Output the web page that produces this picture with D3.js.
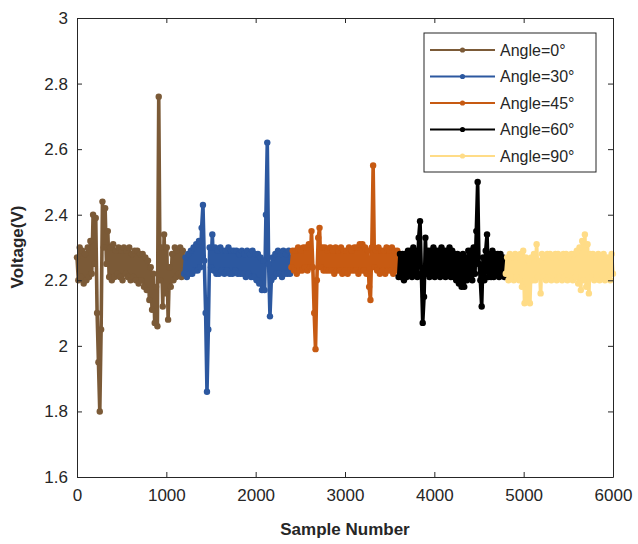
<!DOCTYPE html>
<html>
<head>
<meta charset="utf-8">
<script src="https://cdn.jsdelivr.net/npm/d3@7"></script>
<style>
  body { margin: 0; background: #fff; }
  text { font-family: "Liberation Sans", Arial, sans-serif; fill: #262626; }
</style>
</head>
<body>
<svg id="chart" width="638" height="544"></svg>
<script>
// Sample spacing between stored points, and series start samples
var sampleStep = 15;
var seriesNames = ["Angle=0°", "Angle=30°", "Angle=45°", "Angle=60°", "Angle=90°"];
var seriesStarts = [0, 1200, 2400, 3600, 4800];
var seriesColors = ["#7b5a37", "#2c58a0", "#c75a12", "#000000", "#ffdc87"];

// Voltage readings (one every sampleStep samples)
var angle0 = [2.27,2.20,2.30,2.21,2.29,2.19,2.28,2.20,2.30,2.21,2.32,2.22,2.40,2.25,2.39,2.10,1.95,1.80,2.05,2.44,
  2.30,2.42,2.25,2.35,2.21,2.30,2.20,2.31,2.21,2.29,2.22,2.30,2.21,2.29,2.20,2.30,2.22,2.29,2.21,2.30,
  2.20,2.28,2.21,2.29,2.20,2.29,2.19,2.28,2.20,2.28,2.18,2.27,2.17,2.26,2.14,2.24,2.11,2.22,2.07,2.18,
  2.06,2.76,2.20,2.30,2.12,2.34,2.16,2.30,2.08,2.24,2.18,2.28,2.20,2.30,2.21,2.29,2.22,2.30,2.21,2.29,2.23];
var angle30 = [2.22,2.27,2.21,2.28,2.22,2.29,2.22,2.30,2.23,2.31,2.23,2.32,2.24,2.36,2.43,2.26,2.10,1.86,2.05,2.30,
  2.24,2.34,2.23,2.30,2.22,2.29,2.22,2.30,2.23,2.29,2.22,2.29,2.23,2.30,2.22,2.29,2.22,2.29,2.23,2.29,
  2.22,2.28,2.22,2.29,2.22,2.28,2.21,2.29,2.22,2.28,2.21,2.29,2.21,2.28,2.20,2.28,2.19,2.27,2.17,2.26,
  2.17,2.40,2.62,2.25,2.09,2.20,2.27,2.21,2.28,2.22,2.29,2.22,2.28,2.21,2.29,2.22,2.28,2.22,2.29,2.22,2.27];
var angle45 = [2.24,2.29,2.23,2.29,2.22,2.30,2.23,2.29,2.23,2.30,2.24,2.30,2.23,2.31,2.24,2.35,2.24,2.10,1.99,2.20,
  2.33,2.36,2.24,2.30,2.23,2.30,2.23,2.29,2.23,2.30,2.23,2.29,2.22,2.30,2.23,2.29,2.23,2.30,2.22,2.29,
  2.23,2.29,2.22,2.30,2.23,2.29,2.23,2.30,2.23,2.30,2.22,2.31,2.23,2.31,2.23,2.30,2.22,2.29,2.18,2.14,
  2.30,2.55,2.24,2.29,2.23,2.30,2.22,2.29,2.23,2.29,2.22,2.30,2.23,2.29,2.23,2.30,2.22,2.29,2.23,2.29,2.23];
var angle60 = [2.21,2.28,2.21,2.28,2.20,2.28,2.21,2.29,2.22,2.29,2.21,2.30,2.22,2.29,2.21,2.33,2.38,2.22,2.07,2.15,
  2.33,2.22,2.29,2.21,2.29,2.22,2.30,2.21,2.29,2.22,2.29,2.21,2.30,2.22,2.29,2.21,2.29,2.22,2.30,2.21,
  2.29,2.21,2.28,2.20,2.28,2.19,2.27,2.18,2.28,2.18,2.27,2.20,2.29,2.21,2.29,2.20,2.30,2.22,2.35,2.50,
  2.25,2.20,2.12,2.27,2.20,2.29,2.34,2.21,2.28,2.21,2.29,2.21,2.28,2.22,2.28,2.21,2.28,2.22,2.27,2.21,2.26];
var angle90 = [2.22,2.27,2.20,2.28,2.21,2.27,2.20,2.28,2.21,2.27,2.20,2.28,2.18,2.29,2.13,2.27,2.14,2.26,2.13,2.27,
  2.20,2.28,2.20,2.31,2.21,2.26,2.16,2.28,2.21,2.27,2.20,2.28,2.21,2.28,2.20,2.27,2.21,2.28,2.20,2.28,
  2.21,2.27,2.20,2.28,2.21,2.28,2.20,2.27,2.21,2.28,2.20,2.28,2.21,2.29,2.19,2.30,2.17,2.32,2.20,2.34,
  2.18,2.31,2.16,2.28,2.21,2.28,2.20,2.27,2.21,2.28,2.20,2.27,2.21,2.28,2.20,2.27,2.21,2.27,2.20,2.28,2.22];
var seriesValues = [angle0, angle30, angle45, angle60, angle90];

var xTicks = [0, 1000, 2000, 3000, 4000, 5000, 6000];
var yTicks = [1.6, 1.8, 2, 2.2, 2.4, 2.6, 2.8, 3];

var margin = { top: 18, right: 25, bottom: 67, left: 77 };
var width = 638 - margin.left - margin.right;
var height = 544 - margin.top - margin.bottom;

var svg = d3.select("#chart")
  .append("g")
  .attr("transform", "translate(" + margin.left + "," + margin.top + ")");

var xScale = d3.scaleLinear().domain([0, 6000]).range([0, width]);
var yScale = d3.scaleLinear().domain([1.6, 3]).range([height, 0]);

var line = d3.line()
  .x(function(d) { return xScale(d.x); })
  .y(function(d) { return yScale(d.y); });

// Draw each series: line plus dot markers
seriesValues.forEach(function(vals, s) {
  var pts = vals.map(function(v, i) { return { x: seriesStarts[s] + i * sampleStep, y: v }; });
  var g = svg.append("g");
  g.append("path")
    .datum(pts)
    .attr("d", line)
    .style("fill", "none")
    .style("stroke", seriesColors[s])
    .style("stroke-width", "3.6px")
    .style("stroke-linejoin", "round");
  g.selectAll("circle")
    .data(pts)
    .enter()
    .append("circle")
    .attr("cx", function(d) { return xScale(d.x); })
    .attr("cy", function(d) { return yScale(d.y); })
    .attr("r", 3.2)
    .style("fill", seriesColors[s]);
});

// Axes (MATLAB style box with inward ticks)
function styleAxis(sel, hideText) {
  sel.select(".domain").style("stroke", "#262626");
  sel.selectAll(".tick line").style("stroke", "#262626");
  sel.selectAll(".tick text")
    .style("font-size", "17px")
    .style("fill", "#262626")
    .style("font-family", "'Liberation Sans', Arial, sans-serif");
  if (hideText) sel.selectAll(".tick text").remove();
}

svg.append("g")
  .attr("transform", "translate(0," + height + ")")
  .call(d3.axisBottom(xScale).tickValues(xTicks).tickSize(-5).tickSizeOuter(0).tickPadding(12).tickFormat(d3.format("d")))
  .call(styleAxis, false);

svg.append("g")
  .call(d3.axisTop(xScale).tickValues(xTicks).tickSize(-5).tickSizeOuter(0))
  .call(styleAxis, true);

svg.append("g")
  .call(d3.axisLeft(yScale).tickValues(yTicks).tickSize(-5).tickSizeOuter(0).tickPadding(9).tickFormat(function(d) { return String(+d.toFixed(1)); }))
  .call(styleAxis, false);

svg.append("g")
  .attr("transform", "translate(" + width + ",0)")
  .call(d3.axisRight(yScale).tickValues(yTicks).tickSize(-5).tickSizeOuter(0))
  .call(styleAxis, true);

// Axis titles
svg.append("text")
  .attr("x", width / 2)
  .attr("y", height + 58)
  .attr("text-anchor", "middle")
  .style("font-size", "17px")
  .style("font-weight", "bold")
  .text("Sample Number");

svg.append("text")
  .attr("transform", "rotate(-90)")
  .attr("x", -229)
  .attr("y", -54)
  .attr("text-anchor", "middle")
  .style("font-size", "17px")
  .style("font-weight", "bold")
  .text("Voltage(V)");

// Legend
var legend = svg.append("g").attr("transform", "translate(347,15)");
legend.append("rect")
  .attr("width", 172)
  .attr("height", 139)
  .style("fill", "#fff")
  .style("stroke", "#262626")
  .style("stroke-width", "1px");

var rows = legend.selectAll(".row")
  .data(seriesNames)
  .enter()
  .append("g")
  .attr("class", "row")
  .attr("transform", function(d, i) { return "translate(0," + (17 + i * 26.5) + ")"; });

rows.append("line")
  .attr("x1", 6).attr("x2", 71)
  .style("stroke", function(d, i) { return seriesColors[i]; })
  .style("stroke-width", "2px");
rows.append("circle")
  .attr("cx", 38.5).attr("r", 2.6)
  .style("fill", function(d, i) { return seriesColors[i]; });
rows.append("text")
  .attr("x", 76)
  .attr("dy", "0.35em")
  .style("font-size", "16px")
  .text(function(d) { return d; });
</script>
</body>
</html>
